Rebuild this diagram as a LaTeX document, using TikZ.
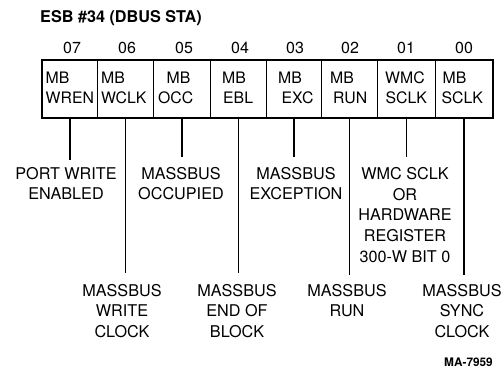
\documentclass[tikz,border=0pt]{standalone}
\usepackage{fontspec}
\setmainfont{TeX Gyre Heros}
\begin{document}
\begin{tikzpicture}[x=1pt,y=-1pt,
  cell/.style={draw,line width=1.1pt,minimum width=#1,minimum height=57pt,inner sep=0pt,anchor=north west},
  celltext/.style={inner sep=0pt,anchor=west,text height=11.5pt,text depth=0pt,font=\fontsize{15.8}{20}\selectfont},
  bitnum/.style={inner sep=0pt,font=\fontsize{16}{20}\selectfont,text height=11.5pt,text depth=0pt},
  lbl/.style={inner sep=0pt,anchor=north,align=center,font=\fontsize{16.2}{20.7}\selectfont},
  leader/.style={line width=1.4pt,shorten >=7pt}]
\useasboundingbox (0,0) rectangle (504,371);
\node[inner sep=0pt,anchor=west,font=\bfseries\fontsize{16.2}{20}\selectfont] (title) at (40,18) {ESB \#34 (DBUS STA)};
% cells
\node[cell=55pt] (c7) at (42,60) {};
\node[cell=56pt] (c6) at (97,60) {};
\node[cell=57pt] (c5) at (153,60) {};
\node[cell=56pt] (c4) at (210,60) {};
\node[cell=55pt] (c3) at (266,60) {};
\node[cell=56pt] (c2) at (321,60) {};
\node[cell=58pt] (c1) at (377,60) {};
\node[cell=57pt] (c0) at (435,60) {};
\draw[line width=2.4pt] (c7.north west) rectangle (c0.south east);
% bit numbers
\node[bitnum] (b7) at (72,48) {07};
\node[bitnum] (b6) at (127,48) {06};
\node[bitnum] (b5) at (184,48) {05};
\node[bitnum] (b4) at (240,48) {04};
\node[bitnum] (b3) at (295,48) {03};
\node[bitnum] (b2) at (350,48) {02};
\node[bitnum] (b1) at (406,48) {01};
\node[bitnum] (b0) at (464,48) {00};
% cell texts
\node[celltext] (t7a) at (45.5,78) {MB};
\node[celltext] (t7b) at (45.5,98) {WREN};
\node[celltext] (t6a) at (101,78) {MB};
\node[celltext] (t6b) at (101,98) {WCLK};
\node[celltext] (t5a) at (166.5,78) {MB};
\node[celltext] (t5b) at (158,98) {OCC};
\node[celltext] (t4a) at (222,78) {MB};
\node[celltext] (t4b) at (223,98) {EBL};
\node[celltext] (t3a) at (278,78) {MB};
\node[celltext] (t3b) at (281.5,98) {EXC};
\node[celltext] (t2a) at (330,78) {MB};
\node[celltext] (t2b) at (333,98) {RUN};
\node[celltext] (t1a) at (385,78) {WMC};
\node[celltext] (t1b) at (385.5,98) {SCLK};
\node[celltext] (t0a) at (442.5,78) {MB};
\node[celltext] (t0b) at (441.5,98) {SCLK};
% labels
\node[lbl] (l7) at (66,167) {PORT WRITE\\ENABLED};
\node[lbl] (l5) at (181,167) {MASSBUS\\OCCUPIED};
\node[lbl] (l3) at (296,167) {MASSBUS\\EXCEPTION};
\node[lbl] (l1) at (405,167) {WMC SCLK\\OR\\HARDWARE\\REGISTER\\300-W BIT 0};
\node[lbl] (l6) at (122,284) {MASSBUS\\WRITE\\CLOCK};
\node[lbl] (l4) at (237,284) {MASSBUS\\END OF\\BLOCK};
\node[lbl] (l2) at (347,284) {MASSBUS\\RUN};
\node[lbl] (l0) at (462,284) {MASSBUS\\SYNC\\CLOCK};
% leaders
\draw[leader] (c7.south) -- (c7.south |- l7.north);
\draw[leader,shorten >=10pt] (c5.south) -- (c5.south |- l5.north);
\draw[leader,shorten >=10pt] (c3.south) -- (c3.south |- l3.north);
\draw[leader,shorten >=10pt] (c1.south) -- (c1.south |- l1.north);
\draw[leader,shorten >=11pt] (c6.south) -- (c6.south |- l6.north);
\draw[leader,shorten >=11pt] (c4.south) -- (c4.south |- l4.north);
\draw[leader,shorten >=9pt] (c2.south) -- (c2.south |- l2.north);
\draw[leader,shorten >=9pt] (c0.south) -- (c0.south |- l0.north);
\node[inner sep=0pt,anchor=east,font=\bfseries\fontsize{11.8}{12}\selectfont] (ma) at (493,362) {MA-7959};
\end{tikzpicture}
\end{document}
